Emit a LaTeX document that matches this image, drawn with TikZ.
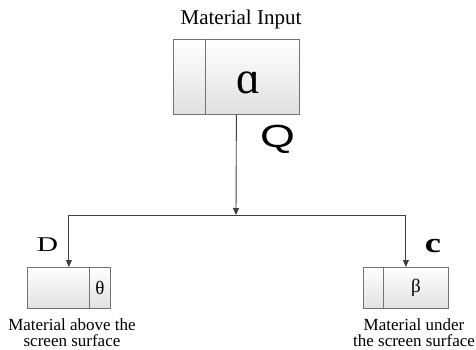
\documentclass[tikz,border=0pt]{standalone}
\usepackage{fontspec}
\setmainfont{Liberation Serif}
\newfontfamily\qfont{Liberation Sans}
\usetikzlibrary{arrows.meta}
\begin{document}
\begin{tikzpicture}[x=1pt,y=-1pt,
  boxpart/.style={draw=black!55, line width=0.8pt, top color=white, bottom color=black!12,
    inner sep=0pt, anchor=north west},
  divider/.style={draw=black!55, line width=0.8pt},
  conn/.style={draw=black!75, line width=0.9pt},
  arr/.style={conn, -{Triangle[length=7pt,width=6pt]}},
  lbl/.style={inner sep=0pt, align=center},
  captext/.style={inner sep=0pt, anchor=base, font=\fontsize{17}{17}\selectfont},
]
\useasboundingbox (0,0) rectangle (476,350);
% boxes
\node[boxpart, minimum width=126pt, minimum height=75pt] (topbox) at (173,39) {};
\draw[divider] (topbox.north west) ++(32,0) coordinate (tdiv) -- (tdiv |- topbox.south);
\node[lbl, font=\fontsize{46}{46}\selectfont] (alpha) at (249,82.5) {ɑ};

\node[boxpart, minimum width=83pt, minimum height=41pt] (leftbox) at (27,267) {};
\draw[divider] (leftbox.north west) ++(62,0) coordinate (ldiv) -- (ldiv |- leftbox.south);
\node[lbl, font=\fontsize{19}{19}\selectfont] (theta) at (100,287.5) {θ};

\node[boxpart, minimum width=85pt, minimum height=41pt] (rightbox) at (363,267) {};
\draw[divider] (rightbox.north west) ++(20,0) coordinate (rdiv) -- (rdiv |- rightbox.south);
\node[lbl, font=\fontsize{19}{19}\selectfont] (beta) at (416,287.5) {β};

% connectors
\coordinate (j) at (236,215);
\coordinate (jl) at (leftbox.north |- j);
\coordinate (jr) at (rightbox.north |- j);
\draw[arr] (topbox.south) -- (j);
\draw[conn] (jl) -- (jr);
\draw[arr] (jl) -- (leftbox.north);
\draw[arr] (jr) -- (rightbox.north);

% labels
\node[inner sep=0pt, anchor=base, font=\fontsize{21}{21}\selectfont] (inlbl) at (241,25) {Material Input};
\node[lbl, font=\qfont\fontsize{32}{32}\selectfont] (q) at (277.5,139) {\scalebox{1.4}[1]{Q}};
\node[lbl, font=\fontsize{21}{21}\selectfont] (d) at (47.5,245) {\scalebox{1.4}[1]{D}};
\node[lbl, font=\bfseries\fontsize{28}{28}\selectfont] (c) at (433,246.5) {\scalebox{1.3}[1]{c}};
\node[captext] (above1) at (72,330) {Material above the};
\node[captext] (above2) at (72,346.5) {screen surface};
\node[captext] (under1) at (414,330) {Material under};
\node[captext] (under2) at (414,346.5) {the screen surface};
\end{tikzpicture}
\end{document}
